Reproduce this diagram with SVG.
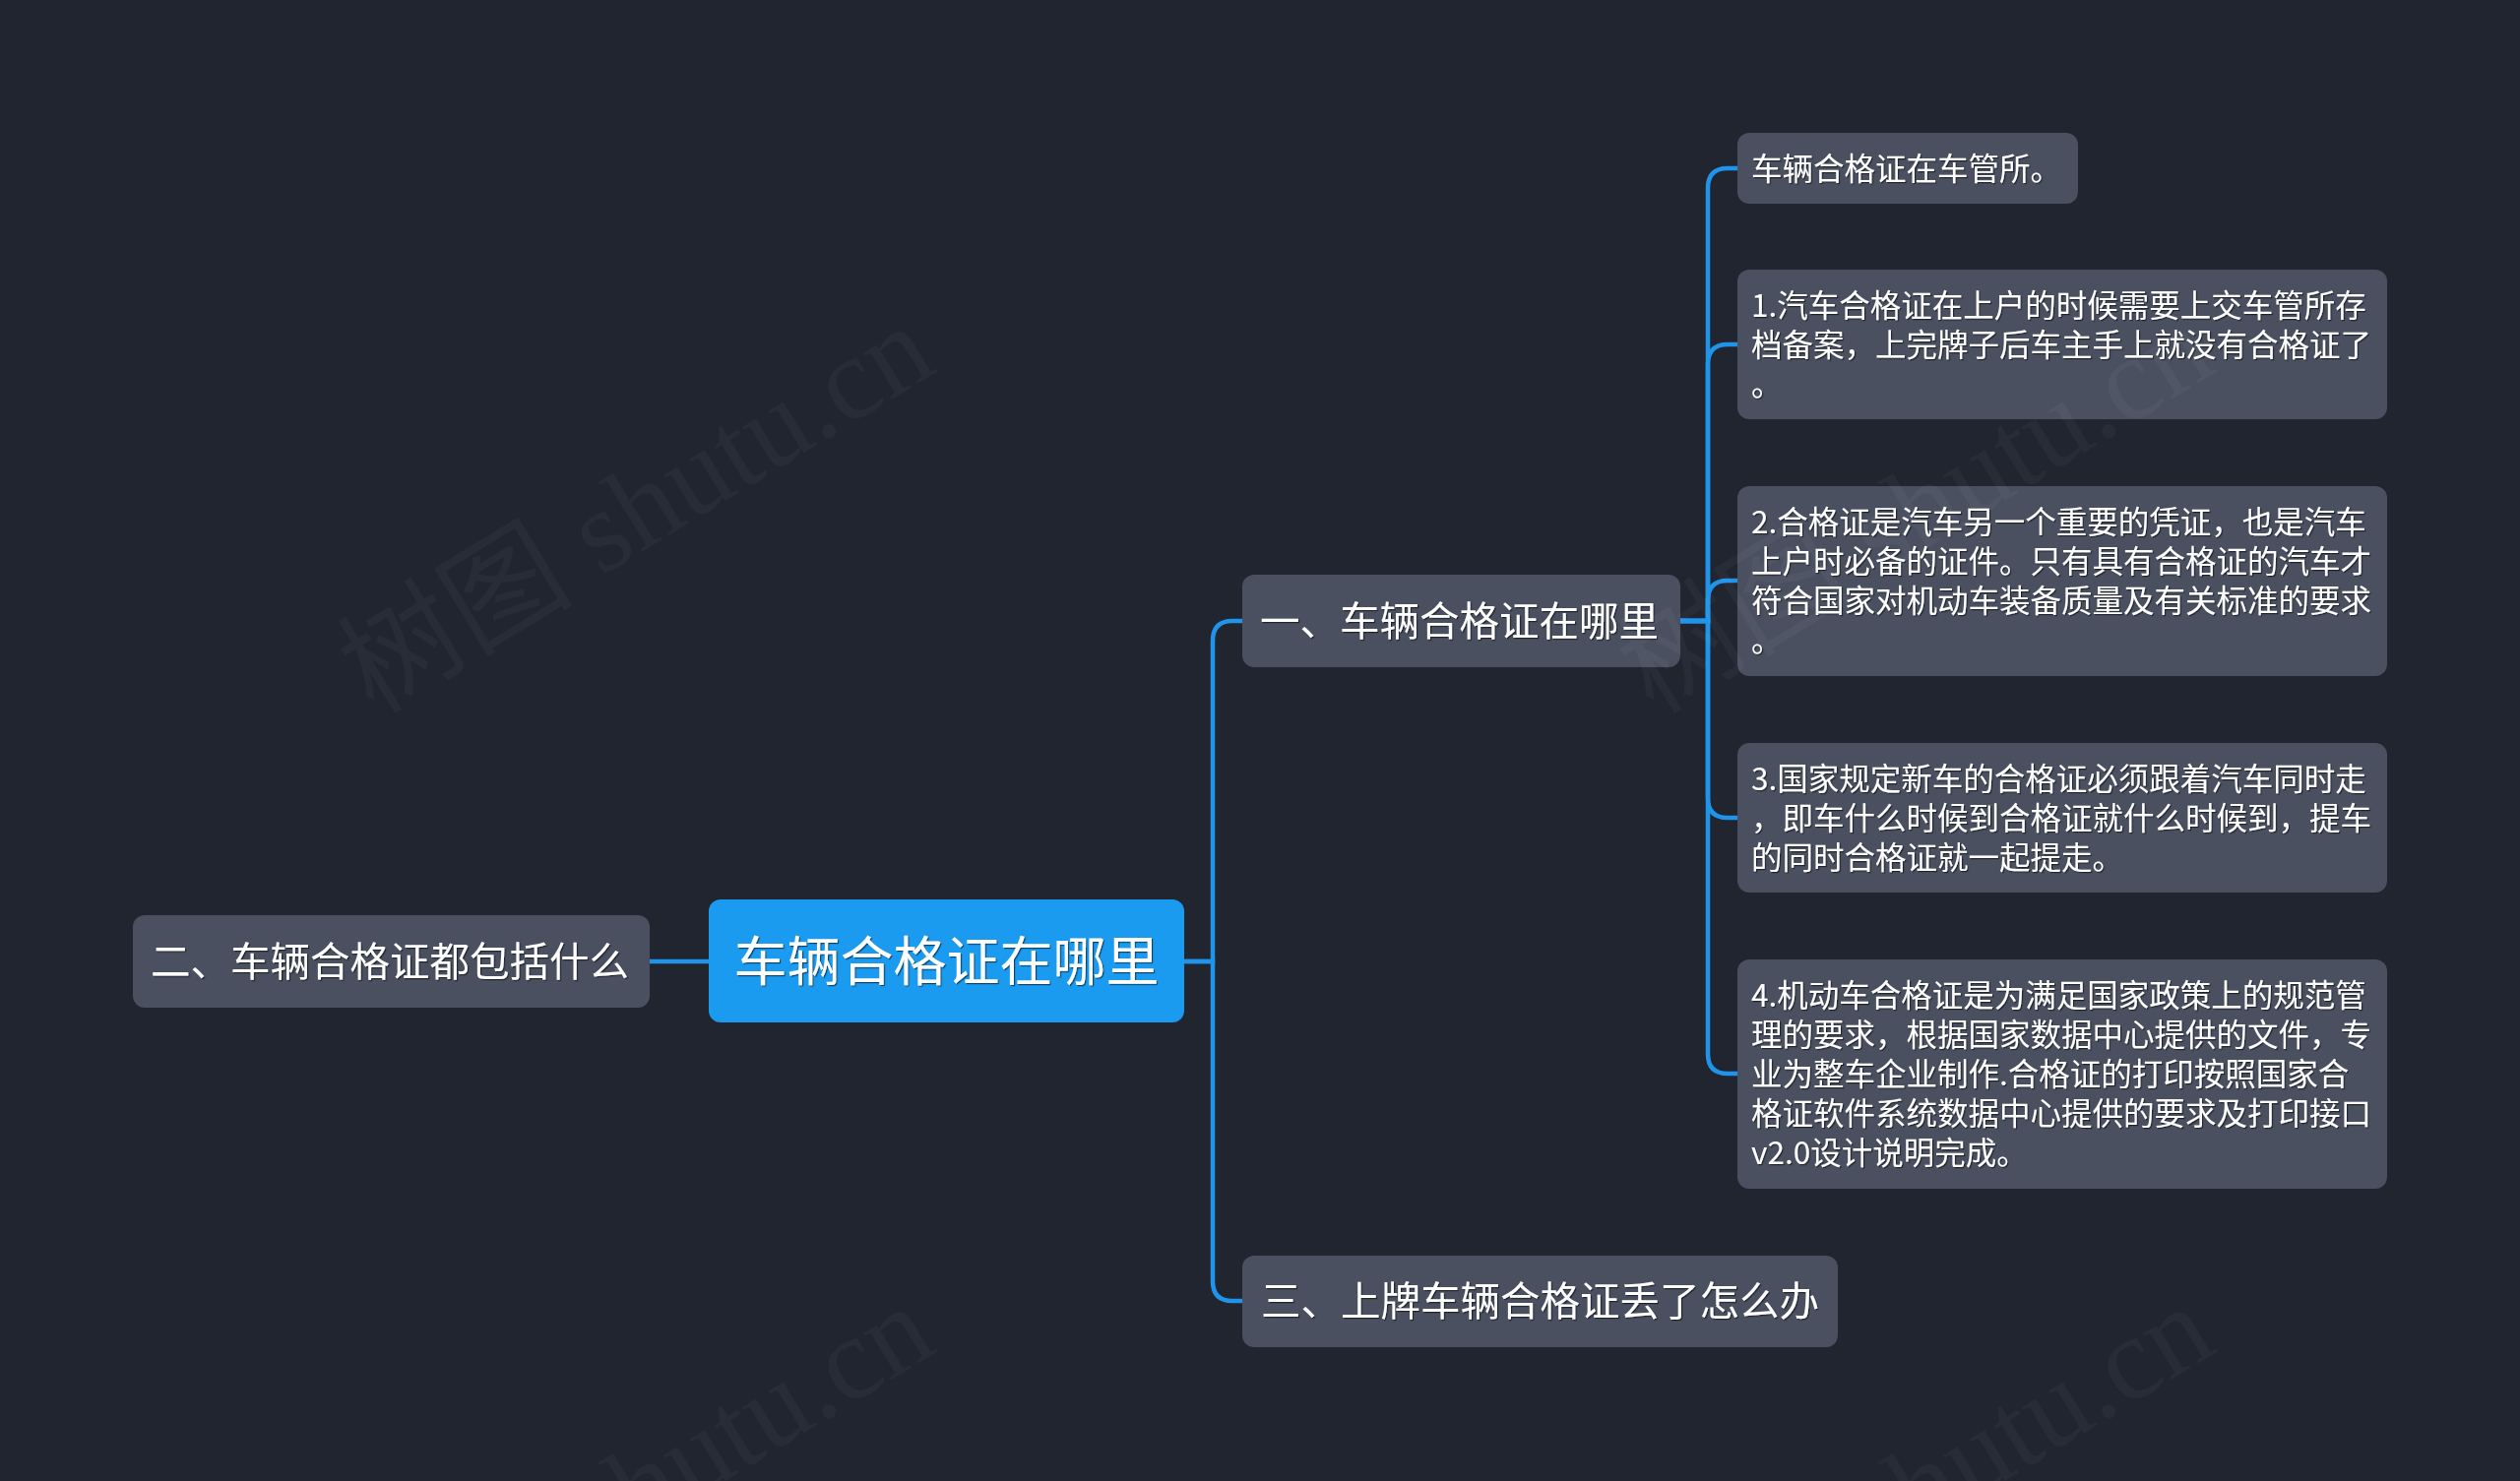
<svg xmlns="http://www.w3.org/2000/svg" width="2560" height="1505" viewBox="0 0 2560 1505">
<defs>
<filter id="ts" x="-5%" y="-20%" width="110%" height="140%">
<feDropShadow dx="1.2" dy="1.2" stdDeviation="0.6" flood-color="#000000" flood-opacity="0.55"/>
</filter>
<style>
.bg{fill:#212530}
.box{fill:#4a5060}
.root{fill:#1b9bf0}
.t{font-family:"Noto Sans CJK SC","Noto Sans",sans-serif;fill:#ffffff;filter:url(#ts)}
.t1{font-size:40.5px}
.t0{font-size:54px}
.t2{font-size:31.5px}
.conn path{fill:none;stroke:#1f94ea;stroke-width:4.5;stroke-linecap:round}
.wm{font-family:"Liberation Serif","Noto Sans CJK SC",serif;font-size:120px;fill:#ffffff;fill-opacity:0.035}
</style>
</defs>
<rect class="bg" x="0" y="0" width="2560" height="1505"/>

<g id="connectors" class="conn">
<path d="M720,977 H660"/>
<path d="M1203,977 H1232 V651 Q1232,631 1252,631 H1262"/>
<path d="M1203,977 H1232 V1302 Q1232,1322 1252,1322 H1262"/>
<path d="M1707,631 H1735 V191 Q1735,171 1755,171 H1765"/>
<path d="M1707,631 H1735 V370 Q1735,350 1755,350 H1765"/>
<path d="M1707,631 H1735 V610 Q1735,590 1755,590 H1765"/>
<path d="M1707,631 H1735 V811 Q1735,831 1755,831 H1765"/>
<path d="M1707,631 H1735 V1071 Q1735,1091 1755,1091 H1765"/>
</g>

<g id="root">
<rect class="root" x="720" y="914" width="483" height="125" rx="12"/>
<text class="t t0" x="961.5" y="997" text-anchor="middle">车辆合格证在哪里</text>
</g>

<g id="node-left">
<rect class="box" x="135" y="930" width="525" height="94" rx="12"/>
<text class="t t1" x="153" y="992">二、车辆合格证都包括什么</text>
</g>

<g id="node-1">
<rect class="box" x="1262" y="584" width="445" height="94" rx="12"/>
<text class="t t1" x="1280" y="646">一、车辆合格证在哪里</text>
</g>

<g id="node-3">
<rect class="box" x="1262" y="1276" width="605" height="93" rx="12"/>
<text class="t t1" x="1281" y="1337">三、上牌车辆合格证丢了怎么办</text>
</g>

<g id="leaf-0">
<rect class="box" x="1765" y="135" width="346" height="72" rx="12"/>
<text class="t t2" x="1779" y="183">车辆合格证在车管所。</text>
</g>

<g id="leaf-1">
<rect class="box" x="1765" y="274" width="660" height="152" rx="12"/>
<text class="t t2" x="1779" y="322">1.汽车合格证在上户的时候需要上交车管所存</text>
<text class="t t2" x="1779" y="362">档备案，上完牌子后车主手上就没有合格证了</text>
<text class="t t2" x="1779" y="402">。</text>
</g>

<g id="leaf-2">
<rect class="box" x="1765" y="494" width="660" height="193" rx="12"/>
<text class="t t2" x="1779" y="542">2.合格证是汽车另一个重要的凭证，也是汽车</text>
<text class="t t2" x="1779" y="582">上户时必备的证件。只有具有合格证的汽车才</text>
<text class="t t2" x="1779" y="622">符合国家对机动车装备质量及有关标准的要求</text>
<text class="t t2" x="1779" y="662">。</text>
</g>

<g id="leaf-3">
<rect class="box" x="1765" y="755" width="660" height="152" rx="12"/>
<text class="t t2" x="1779" y="803">3.国家规定新车的合格证必须跟着汽车同时走</text>
<text class="t t2" x="1779" y="843">，即车什么时候到合格证就什么时候到，提车</text>
<text class="t t2" x="1779" y="883">的同时合格证就一起提走。</text>
</g>

<g id="leaf-4">
<rect class="box" x="1765" y="975" width="660" height="233" rx="12"/>
<text class="t t2" x="1779" y="1023">4.机动车合格证是为满足国家政策上的规范管</text>
<text class="t t2" x="1779" y="1063">理的要求，根据国家数据中心提供的文件，专</text>
<text class="t t2" x="1779" y="1103">业为整车企业制作.合格证的打印按照国家合</text>
<text class="t t2" x="1779" y="1143">格证软件系统数据中心提供的要求及打印接口</text>
<text class="t t2" x="1779" y="1183">v2.0设计说明完成。</text>
</g>

<g id="watermarks">
<text class="wm" x="646" y="517" text-anchor="middle" dominant-baseline="central" transform="rotate(-31.4 646 517)">树图 shutu.cn</text>
<text class="wm" x="1946" y="517" text-anchor="middle" dominant-baseline="central" transform="rotate(-31.4 1946 517)">树图 shutu.cn</text>
<text class="wm" x="646" y="1513" text-anchor="middle" dominant-baseline="central" transform="rotate(-31.4 646 1513)">树图 shutu.cn</text>
<text class="wm" x="1946" y="1513" text-anchor="middle" dominant-baseline="central" transform="rotate(-31.4 1946 1513)">树图 shutu.cn</text>
</g>
</svg>
